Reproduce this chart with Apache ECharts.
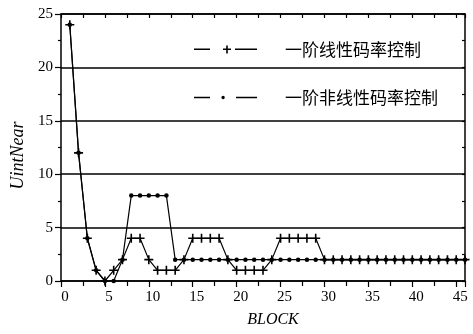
<!DOCTYPE html>
<html>
<head>
<meta charset="utf-8">
<script src="https://cdn.jsdelivr.net/npm/echarts@6/dist/echarts.min.js"></script>
<style>html,body{margin:0;padding:0;background:#fff}#c{width:473px;height:334px}</style>
</head>
<body>
<div id="c"></div>
<script>
const blocks = [1,2,3,4,5,6,7,8,9,10,11,12,13,14,15,16,17,18,19,20,21,22,23,24,25,26,27,28,29,30,31,32,33,34,35,36,37,38,39,40,41,42,43,44,45,46];
const linearRate = [24,12,4,1,0,1,2,4,4,2,1,1,1,2,4,4,4,4,2,1,1,1,1,2,4,4,4,4,4,2,2,2,2,2,2,2,2,2,2,2,2,2,2,2,2,2];
const nonlinearRate = [24,12,4,1,0,0,2,8,8,8,8,8,2,2,2,2,2,2,2,2,2,2,2,2,2,2,2,2,2,2,2,2,2,2,2,2,2,2,2,2,2,2,2,2,2,2];
const seriesNames = ['一阶线性码率控制', '一阶非线性码率控制'];
const xTickLabels = ['0','5','10','15','20','25','30','35','40','45'];
const yTickLabels = ['0','5','10','15','20','25'];

const pairs = (ys) => blocks.map((b, i) => [b, ys[i]]);
const serif = '"Liberation Serif", "Times New Roman", serif';
const cjk = '"Noto Sans CJK SC", sans-serif';
const plusPath = 'path://M3.7,0h1.6v9h-1.6z M0,3.7h9v1.6h-9z';
const legendPlus = 'path://M0,3h16v1.5h-16z M41,3h22v1.5h-22z M29,3h8v1.5h-8z M32.2,0h1.6v8h-1.6z';
const legendDot = 'path://M0,3h16v1.5h-16z M42,3h21v1.5h-21z M27.4,3.75a1.7,1.7 0 1 0 3.4,0a1.7,1.7 0 1 0 -3.4,0z';

const chart = echarts.init(document.getElementById('c'), null, {renderer: 'canvas'});
chart.setOption({
  animation: false,
  backgroundColor: '#fff',
  grid: {left: 61, right: 8, top: 14, bottom: 53},
  legend: {
    orient: 'vertical', left: 189, top: 36,
    itemWidth: 63, itemHeight: 8, itemGap: 31,
    textStyle: {fontFamily: cjk, fontSize: 17, color: '#000', padding: [0, 0, 0, 23]},
    data: [
      {name: seriesNames[0], icon: legendPlus},
      {name: seriesNames[1], icon: legendDot}
    ]
  },
  xAxis: [{
    type: 'value', min: 0, max: 46, interval: 5, position: 'bottom',
    name: 'BLOCK', nameLocation: 'middle', nameGap: 31,
    nameTextStyle: {fontFamily: serif, fontStyle: 'italic', fontSize: 16, color: '#000', padding: [0, 0, 0, 20]},
    axisLine: {onZero: false, lineStyle: {color: '#000', width: 1.5}},
    axisTick: {inside: false, length: 6, lineStyle: {color: '#000', width: 1.2}},
    minorTick: {show: true, splitNumber: 2, length: 5, lineStyle: {color: '#000', width: 1.2}},
    axisLabel: {fontFamily: serif, fontSize: 15, color: '#000', margin: 9, padding: [0, 0, 0, 8],
      formatter: (v) => xTickLabels.includes(String(v)) ? String(v) : ''},
    splitLine: {show: false}
  }, {
    type: 'value', min: 0, max: 46, interval: 5, position: 'top',
    axisLine: {onZero: false, lineStyle: {color: '#000', width: 1.5}},
    axisTick: {inside: true, length: 4, lineStyle: {color: '#000', width: 1.2}},
    minorTick: {show: true, splitNumber: 2, length: 4, lineStyle: {color: '#000', width: 1.2}},
    axisLabel: {show: false}, splitLine: {show: false}
  }],
  yAxis: [{
    type: 'value', min: 0, max: 25, interval: 5, position: 'left',
    name: 'UintNear', nameLocation: 'middle', nameGap: 26,
    nameTextStyle: {fontFamily: serif, fontStyle: 'italic', fontSize: 18, color: '#000', padding: [0, 16, 0, 0]},
    axisLine: {onZero: false, lineStyle: {color: '#000', width: 1.5}},
    axisTick: {inside: false, length: 6, lineStyle: {color: '#000', width: 1.2}},
    minorTick: {show: true, splitNumber: 2, length: 3, lineStyle: {color: '#000', width: 1.2}},
    axisLabel: {fontFamily: serif, fontSize: 15, color: '#000', margin: 8,
      formatter: (v) => yTickLabels.includes(String(v)) ? String(v) : ''},
    splitLine: {show: true, lineStyle: {color: '#000', width: 1.5}}
  }, {
    type: 'value', min: 0, max: 25, interval: 5, position: 'right',
    axisLine: {onZero: false, lineStyle: {color: '#000', width: 1.5}},
    axisTick: {inside: true, length: 3, lineStyle: {color: '#000', width: 1.2}},
    minorTick: {show: true, splitNumber: 2, length: 3, lineStyle: {color: '#000', width: 1.2}},
    axisLabel: {show: false}, splitLine: {show: false}
  }],
  series: [{
    name: seriesNames[1], type: 'line', data: pairs(nonlinearRate),
    symbol: 'circle', symbolSize: 4.5, showSymbol: true,
    itemStyle: {color: '#000'}, lineStyle: {color: '#000', width: 1.2}, z: 3
  }, {
    name: seriesNames[0], type: 'line', data: pairs(linearRate),
    symbol: plusPath, symbolSize: 9, showSymbol: true,
    itemStyle: {color: '#000'}, lineStyle: {color: '#000', width: 1.2}, z: 4
  }]
});
</script>
</body>
</html>
